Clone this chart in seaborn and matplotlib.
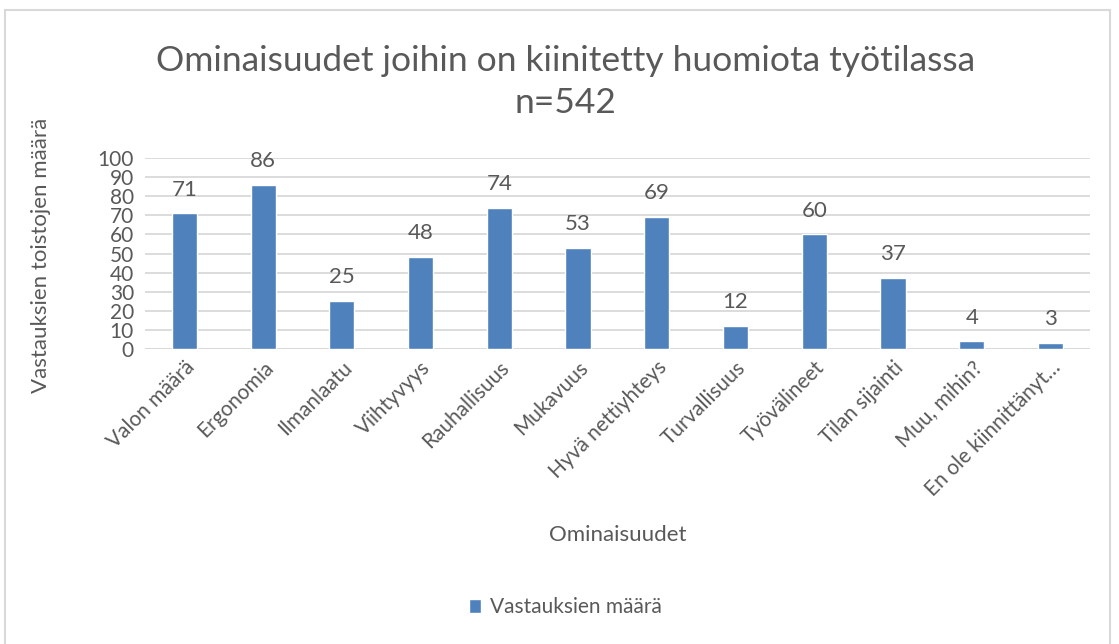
import pandas as pd
import numpy as np
import seaborn as sns
import matplotlib.pyplot as plt
from matplotlib.patches import Rectangle

# data
ominaisuudet = ['Valon määrä', 'Ergonomia', 'Ilmanlaatu', 'Viihtyvyys', 'Rauhallisuus',
                'Mukavuus', 'Hyvä nettiyhteys', 'Turvallisuus', 'Työvälineet',
                'Tilan sijainti', 'Muu, mihin?', 'En ole kiinnittänyt…']
maarat = [71, 86, 25, 48, 74, 53, 69, 12, 60, 37, 4, 3]

df = pd.DataFrame({'Ominaisuudet': ominaisuudet, 'Vastauksien määrä': maarat})

sns.set_theme(style='white')
plt.rcParams['font.family'] = ['Lato', 'DejaVu Sans']
grey = '#595959'
blue = '#4F81BD'

fig = plt.figure(figsize=(11.19, 6.44), dpi=100)
ax = fig.add_axes([0.1296, 0.458, 0.8444, 0.2966])

sns.barplot(data=df, x='Ominaisuudet', y='Vastauksien määrä', color=blue,
            width=0.32, saturation=1, ax=ax, label='Vastauksien määrä', zorder=3)

ax.set_ylim(0, 100)
ax.set_yticks(range(0, 101, 10))
ax.set_xlim(-0.5, len(ominaisuudet) - 0.5)
ax.grid(axis='y', color='#D9D9D9', linewidth=1.3, zorder=0)
for s in ax.spines.values():
    s.set_visible(False)
ax.axhline(0, color='#D9D9D9', linewidth=1.3, zorder=1)
ax.tick_params(axis='both', length=0, colors=grey, labelsize=15)
ax.tick_params(axis='y', pad=8)
ax.tick_params(axis='x', pad=6)
plt.setp(ax.get_xticklabels(), rotation=45, ha='right', rotation_mode='anchor')

for c in ax.containers:
    ax.bar_label(c, padding=10, fontsize=16, color=grey)

ax.set_xlabel('Ominaisuudet', fontsize=16, color=grey)
ax.xaxis.set_label_coords(0.5, -0.92)
ax.set_ylabel('Vastauksien toistojen määrä', fontsize=16, color=grey)
ax.yaxis.set_label_coords(-0.1, 0.49)

fig.text(0.505, 0.905, 'Ominaisuudet joihin on kiinitetty huomiota työtilassa',
         ha='center', va='center', fontsize=25.5, color=grey)
fig.text(0.505, 0.84, 'n=542', ha='center', va='center', fontsize=25.5, color=grey)

leg = ax.legend(loc='center', bbox_to_anchor=(0.505, 0.057), bbox_transform=fig.transFigure,
                frameon=False, fontsize=15, handlelength=0.6, handleheight=0.6,
                handletextpad=0.4)
for t in leg.get_texts():
    t.set_color(grey)

fig.patches.append(Rectangle((5 / 1119, -0.01), 1105 / 1119, 1 - 10 / 644 + 0.01,
                             transform=fig.transFigure, fill=False,
                             edgecolor='#D9D9D9', linewidth=1.5))

fig.savefig('out.png', dpi=100, facecolor='white')
